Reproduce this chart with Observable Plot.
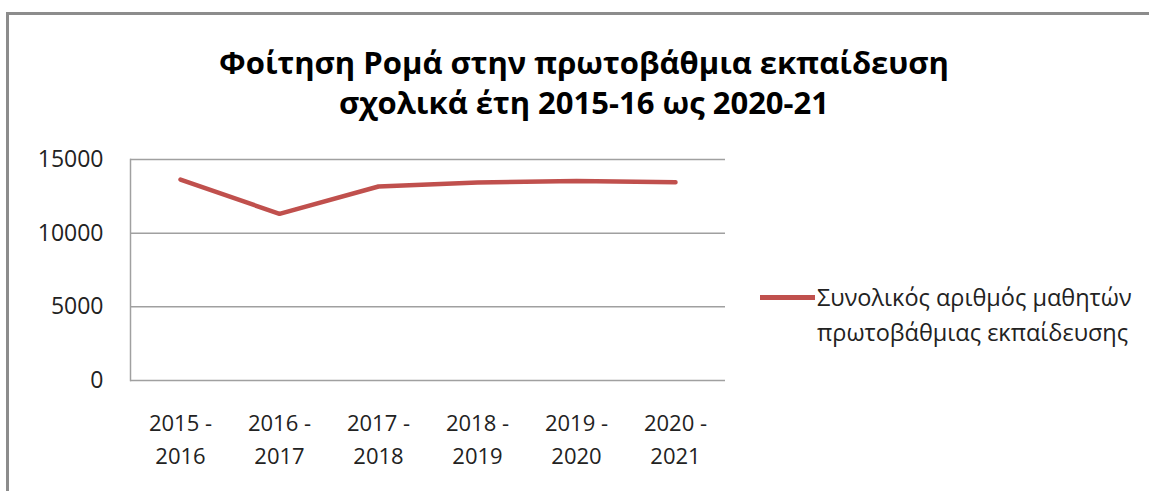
<!DOCTYPE html>
<html>
<head>
<meta charset="utf-8">
<script src="https://cdn.jsdelivr.net/npm/d3@7"></script>
<script src="https://cdn.jsdelivr.net/npm/@observablehq/plot@0.6"></script>
<style>
  body { margin: 0; background: #fff; }
  #wrap { position: relative; width: 1149px; height: 491px; overflow: hidden; background: #fff; font-family: "Open Sans", sans-serif; }
  #frame { position: absolute; left: 6px; top: 12px; width: 1200px; height: 600px; border-left: 3px solid #8c8c8c; border-top: 3px solid #8c8c8c; }
  #title { position: absolute; left: 0; width: 1168px; top: 42px; text-align: center; font-weight: 700; font-size: 31px; line-height: 40px; color: #000; }
  #chart { position: absolute; left: 0; top: 130px; }
  #legend { position: absolute; left: 760px; top: 280px; display: flex; align-items: flex-start; color: #222; font-size: 23.5px; line-height: 35px; }
  #legend .sw { width: 55px; height: 5px; background: #c0504d; margin-top: 15px; margin-right: 2px; }
</style>
</head>
<body>
<div id="wrap">
  <div id="frame"></div>
  <div id="title">Φοίτηση Ρομά στην πρωτοβάθμια εκπαίδευση<br>σχολικά έτη 2015-16 ως 2020-21</div>
  <div id="chart"></div>
  <div id="legend"><div class="sw"></div><div>Συνολικός αριθμός μαθητών<br>πρωτοβάθμιας εκπαίδευσης</div></div>
</div>
<script>
const years = ["2015 -\n2016", "2016 -\n2017", "2017 -\n2018", "2018 -\n2019", "2019 -\n2020", "2020 -\n2021"];
const students = [13640, 11310, 13170, 13440, 13540, 13460];
const yTicks = [0, 5000, 10000, 15000];
const seriesName = "Συνολικός αριθμός μαθητών πρωτοβάθμιας εκπαίδευσης";

const data = years.map((y, i) => ({year: y, value: students[i]}));

const chart = Plot.plot({
  width: 1149,
  height: 361,
  marginLeft: 130,
  marginRight: 424,
  marginTop: 29,
  marginBottom: 111,
  style: {fontFamily: "Open Sans, sans-serif", fontSize: "22px", color: "#222", background: "transparent"},
  x: {type: "point", domain: years, padding: 0.5, label: null},
  y: {domain: [0, 15000], label: null},
  marks: [
    Plot.ruleY(yTicks, {stroke: "#a0a0a0", strokeWidth: 1.5}),
    Plot.frame({anchor: "left", stroke: "#a0a0a0", strokeWidth: 1.5}),
    Plot.axisY(yTicks, {tickSize: 0, tickPadding: 27, fontSize: 23, label: null, tickFormat: d3.format("d")}),
    Plot.axisX({tickSize: 0, tickPadding: 27, fontSize: 22, lineHeight: 1.5, label: null}),
    Plot.line(data, {x: "year", y: "value", stroke: "#c0504d", strokeWidth: 4.5, strokeLinejoin: "round", strokeLinecap: "round"})
  ]
});
document.getElementById("chart").appendChild(chart);
</script>
</body>
</html>
